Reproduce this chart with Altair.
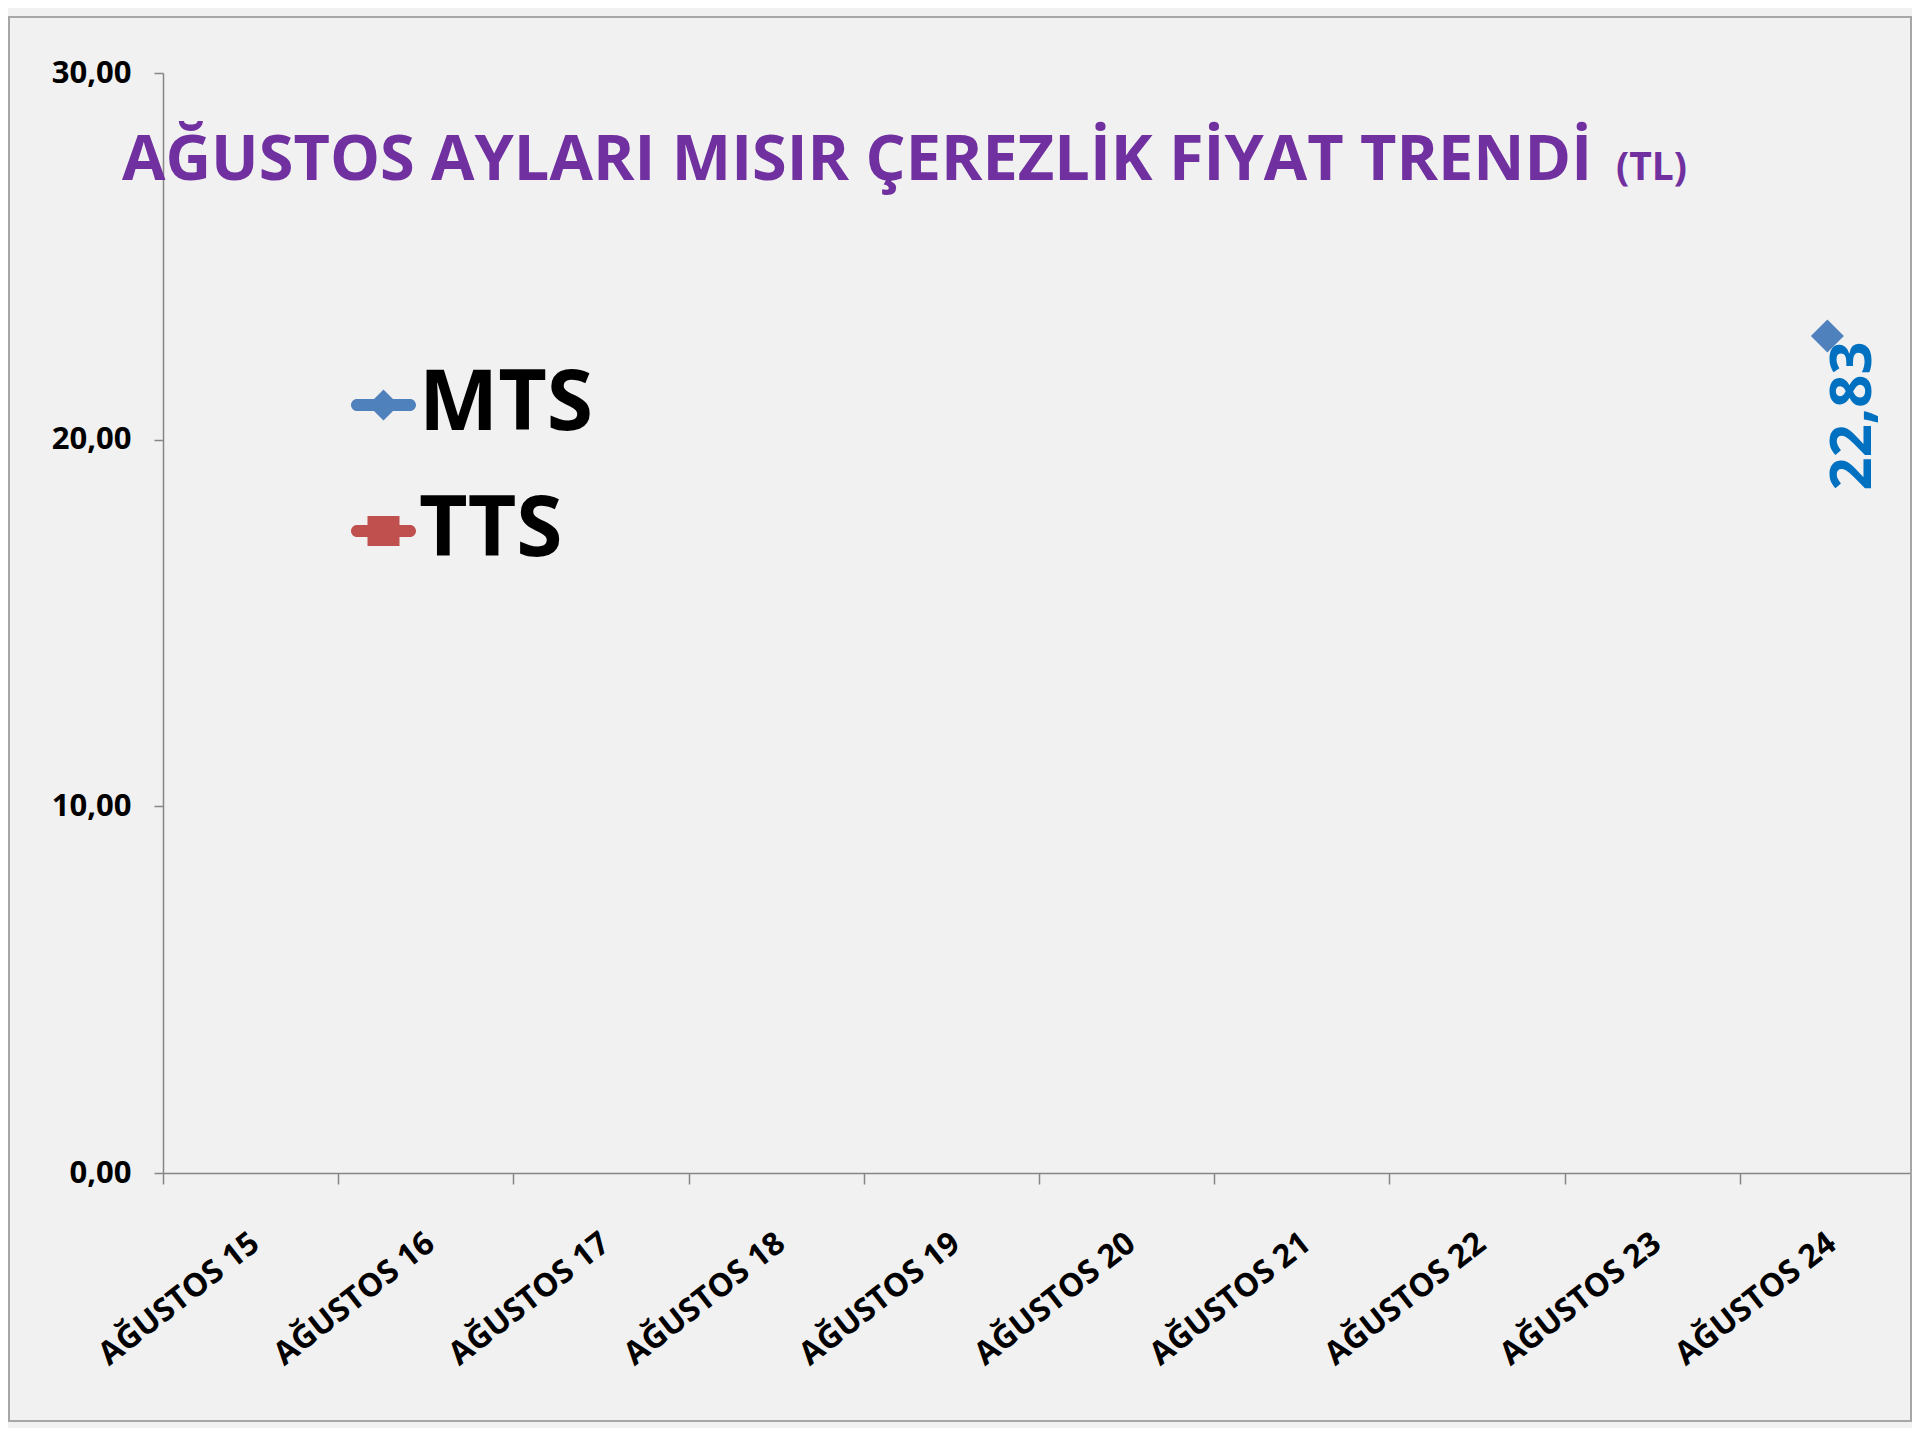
import altair as alt
import pandas as pd

CATEGORIES = ["AĞUSTOS 15", "AĞUSTOS 16", "AĞUSTOS 17", "AĞUSTOS 18", "AĞUSTOS 19",
              "AĞUSTOS 20", "AĞUSTOS 21", "AĞUSTOS 22", "AĞUSTOS 23", "AĞUSTOS 24"]
MTS = [None, None, None, None, None, None, None, None, None, 22.83]
TTS = [None, None, None, None, None, None, None, None, None, None]
SERIES = ["MTS", "TTS"]
COLORS = ["#4F81BD", "#C0504D"]
TITLE_MAIN = "AĞUSTOS AYLARI MISIR ÇEREZLİK FİYAT TRENDİ"
TITLE_UNIT = "(TL)"
Y_TICKS = [0, 10, 20, 30]

rows = []
for i, c in enumerate(CATEGORIES):
    rows.append({"date": c, "series": "MTS", "value": MTS[i]})
    rows.append({"date": c, "series": "TTS", "value": TTS[i]})
df = pd.DataFrame(rows)

FONT = "Open Sans"
AXIS_GRAY = "#868686"

# legend symbols: line with diamond / line with square (Excel style)
P_MTS = ("M-0.64,-0.24 L0.04,-0.24 L0.42,-0.62 L0.8,-0.24 L1.48,-0.24 "
         "A0.24,0.24 0 0 1 1.48,0.24 L0.8,0.24 L0.42,0.62 L0.04,0.24 "
         "L-0.64,0.24 A0.24,0.24 0 0 1 -0.64,-0.24 Z")
P_TTS = ("M-0.64,-0.24 L-0.22,-0.24 L-0.22,-0.6 L1.06,-0.6 L1.06,-0.24 "
         "L1.48,-0.24 A0.24,0.24 0 0 1 1.48,0.24 L1.06,0.24 L1.06,0.6 "
         "L-0.22,0.6 L-0.22,0.24 L-0.64,0.24 A0.24,0.24 0 0 1 -0.64,-0.24 Z")

x_enc = alt.X("date:N", sort=CATEGORIES,
              scale=alt.Scale(type="band", domain=CATEGORIES, paddingInner=0, paddingOuter=0,
                              range=[0, 1752]),
              axis=alt.Axis(title=None, tickBand="extent", labelAngle=322, labelAlign="right",
                            labelBaseline="top", labelPadding=43, labelOffset=-5,
                            labelFont=FONT, labelFontSize=32, labelFontWeight="bold",
                            labelColor="black", tickSize=11, tickColor=AXIS_GRAY,
                            domainColor=AXIS_GRAY, domainWidth=1.5, tickWidth=1.5,
                            labelLimit=400, grid=False))
y_enc = alt.Y("value:Q", scale=alt.Scale(domain=[0, 30]),
              axis=alt.Axis(title=None, values=Y_TICKS,
                            labelExpr="replace(format(datum.value, '.2f'), '.', ',')",
                            labelFont=FONT, labelFontSize=31, labelFontWeight="bold",
                            labelColor="black", tickSize=9, labelPadding=23,
                            tickColor=AXIS_GRAY, domainColor=AXIS_GRAY, domainWidth=1.5,
                            tickWidth=1.5, grid=False))

legend = alt.Legend(
    title=None, orient="none", legendX=168, legendY=290, direction="vertical",
    labelFont=FONT, labelFontSize=84, labelFontWeight="bold", labelColor="black",
    labelLimit=600, labelOffset=4, symbolSize=2500, rowPadding=42, padding=0,
    symbolStrokeWidth=0, symbolOpacity=1,
)

color_scale = alt.Scale(domain=SERIES, range=COLORS)

border = alt.Chart(pd.DataFrame({"k": [0]})).mark_rect(
    fillOpacity=0, stroke="#A6A6A6", strokeWidth=2
).encode(x=alt.value(-154), x2=alt.value(1748), y=alt.value(-56), y2=alt.value(1348))

title_main = alt.Chart(pd.DataFrame({"t": [TITLE_MAIN]})).mark_text(
    font=FONT, fontSize=63, fontWeight="bold", color="#7030A0", align="left",
    baseline="alphabetic"
).encode(x=alt.value(-41), y=alt.value(107), text="t:N")

title_unit = alt.Chart(pd.DataFrame({"t": [TITLE_UNIT]})).mark_text(
    font=FONT, fontSize=39, fontWeight="bold", color="#7030A0", align="left",
    baseline="alphabetic"
).encode(x=alt.value(1453), y=alt.value(107), text="t:N")

# legend carrier: no marks drawn, only the legend
legend_layer = alt.Chart(pd.DataFrame({"series": SERIES})).transform_filter("false").mark_point(
    filled=True, opacity=1
).encode(
    color=alt.Color("series:N", scale=color_scale, legend=legend),
    shape=alt.Shape("series:N", scale=alt.Scale(domain=SERIES, range=[P_MTS, P_TTS]), legend=legend),
)

points = alt.Chart(df).mark_point(filled=True, shape="diamond", size=1090, opacity=1).encode(
    x=x_enc, y=y_enc,
    color=alt.Color("series:N", scale=color_scale, legend=None),
)

labels = alt.Chart(df).transform_filter("datum.value != null").transform_calculate(
    label="replace(format(datum.value, '.2f'), '.', ',')"
).mark_text(angle=270, dx=-80, dy=27, fontSize=58, font=FONT, fontWeight="bold",
            color="#0070C0", align="center", baseline="middle").encode(
    x=x_enc, y=y_enc, text="label:N")

chart = alt.layer(border, title_main, title_unit, legend_layer, points, labels).properties(
    width=1749, height=1100,
    autosize=alt.AutoSizeParams(type="none"),
    padding={"left": 155, "top": 65, "right": 0, "bottom": 255},
).configure(background="#F1F1F1").configure_view(stroke="transparent")

chart.save("out.html", embed_options={"renderer": "svg", "actions": False})
